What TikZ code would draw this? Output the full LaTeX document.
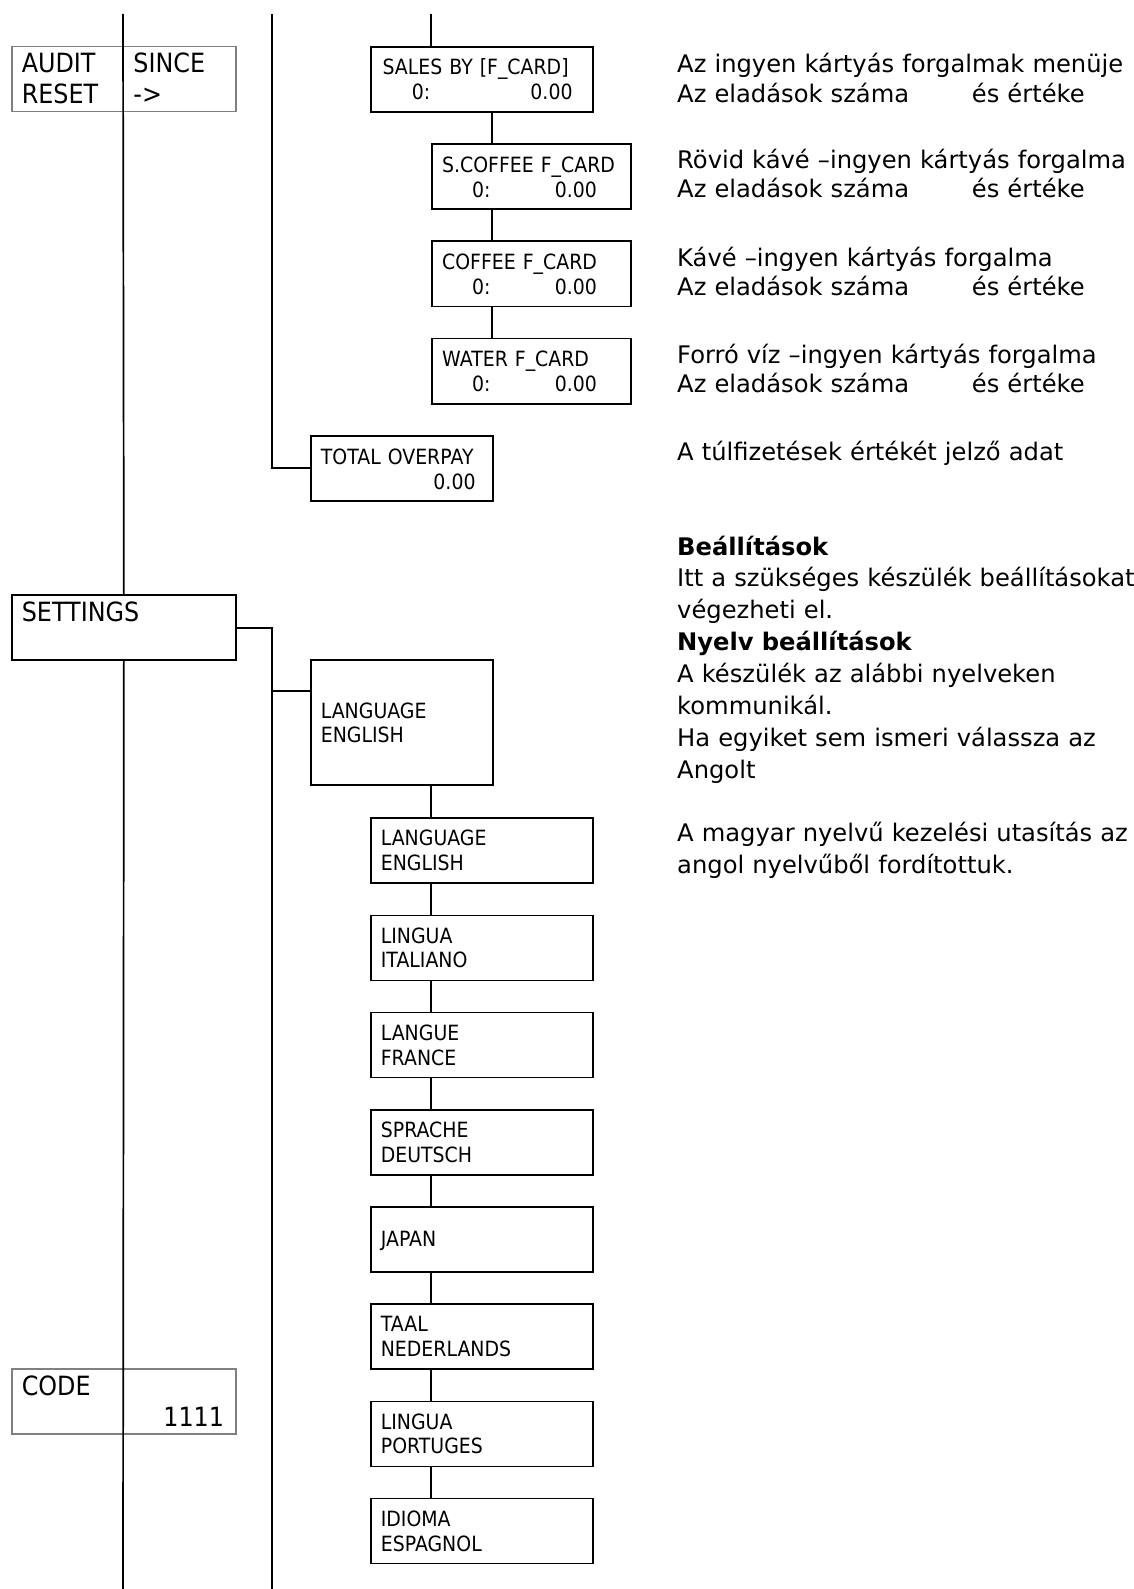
\documentclass[tikz,border=0pt]{standalone}
\usepackage{fontspec}
\setmainfont{DejaVu Sans}
\newfontfamily\boxfont{DejaVu Sans}[FakeStretch=0.9]

\newcommand\menufont{\boxfont\fontsize{21pt}{24.8pt}\selectfont}
\newcommand\keyfont{\boxfont\fontsize{26.5pt}{31pt}\selectfont}
\newcommand\descfont{\fontsize{24.2pt}{29.6pt}\selectfont}
\newcommand\notefont{\fontsize{24.2pt}{31.9pt}\selectfont}
\newcommand\cntrow[2]{\makebox[\linewidth][l]{\hspace*{#1}0:\hfill 0.00\hspace*{#2}}}

\begin{document}
\begin{tikzpicture}[x=1pt,y=-1pt]
% Define the node styles
\tikzstyle{menu} = [draw, rectangle, line width=1.7pt, anchor=north west, inner xsep=10pt, inner ysep=0pt, align=left, font=\menufont]
\tikzstyle{row} = [menu, text width=202pt, text height=27.7pt, text depth=37.3pt]
\tikzstyle{fcard} = [menu, text width=179pt, text height=28.4pt, text depth=36.8pt]
\tikzstyle{key} = [menu, draw=black!50, line width=1.5pt, font=\keyfont, text width=204pt, text height=26pt, text depth=39pt]
\tikzstyle{desc} = [anchor=base west, inner sep=0pt, align=left, text width=500pt, font=\descfont]
\tikzstyle{wire} = [line width=1.7pt]

\useasboundingbox (0,0) rectangle (1133,1589);

% Define the nodes
\node[key] (audit) at (11,46) {\makebox[111.7pt][l]{AUDIT}SINCE\\\makebox[111.7pt][l]{RESET}->};
\node[menu, text width=202pt, text height=28pt, text depth=37pt] (sales) at (370,46) {\hspace*{1.7pt}SALES BY [F\_CARD]\\\cntrow{31pt}{10.3pt}};
\node[fcard] (scoffee) at (431.3,143.3) {S.COFFEE F\_CARD\\\cntrow{30pt}{24.3pt}};
\node[fcard] (coffee) at (431.3,240.4) {COFFEE F\_CARD\\\cntrow{30pt}{24.3pt}};
\node[fcard] (water) at (431.3,337.6) {WATER F\_CARD\\\cntrow{30pt}{24.3pt}};
\node[menu, text width=162pt, text height=28.6pt, text depth=36.6pt] (total) at (310,434.8) {TOTAL OVERPAY\\\makebox[\linewidth][r]{0.00\hspace*{7.3pt}}};

\node[key, draw=black, line width=1.7pt] (settings) at (11,594.3) {SETTINGS};
\node[menu, text width=162pt, text height=58pt, text depth=67pt] (biglang) at (310,659.3) {LANGUAGE\\ENGLISH};
\node[row] (english) at (370,817.3) {LANGUAGE\\ENGLISH};
\node[row] (italiano) at (370,914.5) {LINGUA\\ITALIANO};
\node[row] (france) at (370,1011.7) {LANGUE\\FRANCE};
\node[row] (deutsch) at (370,1108.9) {SPRACHE\\DEUTSCH};
\node[row, text height=39.4pt, text depth=25.6pt] (japan) at (370,1206.1) {JAPAN};
\node[row] (nederlands) at (370,1303.3) {TAAL\\NEDERLANDS};
\node[row] (portuges) at (370,1400.5) {LINGUA\\PORTUGES};
\node[row] (espagnol) at (370,1497.7) {IDIOMA\\ESPAGNOL};
\node[key] (code) at (11,1368.3) {CODE\\\makebox[\linewidth][r]{1111\hspace*{1.7pt}}};

% Descriptions
\node[desc] (dsales) at (677,72.7) {Az ingyen kártyás forgalmak menüje\\\makebox[294.7pt][l]{Az eladások száma}és értéke};
\node[desc] (dscoffee) at (677,168.3) {Rövid kávé –ingyen kártyás forgalma\\\makebox[294.7pt][l]{Az eladások száma}és értéke};
\node[desc] (dcoffee) at (677,266) {Kávé –ingyen kártyás forgalma\\\makebox[294.7pt][l]{Az eladások száma}és értéke};
\node[desc] (dwater) at (677,363.3) {Forró víz –ingyen kártyás forgalma\\\makebox[294.7pt][l]{Az eladások száma}és értéke};
\node[desc] (dtotal) at (677,460) {A túlfizetések értékét jelző adat};
\node[desc, font=\notefont] (dsettings) at (677,555) {\textbf{Beállítások}\\Itt a szükséges készülék beállításokat\\végezheti el.\\\textbf{Nyelv beállítások}\\A készülék az alábbi nyelveken\\kommunikál.\\Ha egyiket sem ismeri válassza az\\Angolt};
\node[desc, font=\notefont] (dnote) at (677,841.7) {A magyar nyelvű kezelési utasítás az\\angol nyelvűből fordítottuk.};

% Define the connections
\coordinate (topA) at (123,14);
\coordinate (topB) at (272.3,14);
\coordinate (topC) at (431.3,14);
\coordinate (botA) at (123,1589);
\coordinate (botB) at (272.3,1589);
\coordinate (colF) at (491.7,14);
\coordinate (langtap) at ([yshift=-32pt]biglang.north west);

\draw[wire] (topA) -- (settings.north);
\draw[wire] (settings.south) -- (botA);
\draw[wire] (topB) |- (total.west);
\draw[wire] (settings.east) -| (botB);
\draw[wire] (langtap) -- (langtap -| botB);
\draw[wire] (topC) -- (topC |- sales.north);

\draw[wire] (sales.south -| colF) -- (scoffee.north -| colF);
\draw[wire] (scoffee.south -| colF) -- (coffee.north -| colF);
\draw[wire] (coffee.south -| colF) -- (water.north -| colF);

\draw[wire] (biglang.south -| topC) -- (english.north -| topC);
\draw[wire] (english.south -| topC) -- (italiano.north -| topC);
\draw[wire] (italiano.south -| topC) -- (france.north -| topC);
\draw[wire] (france.south -| topC) -- (deutsch.north -| topC);
\draw[wire] (deutsch.south -| topC) -- (japan.north -| topC);
\draw[wire] (japan.south -| topC) -- (nederlands.north -| topC);
\draw[wire] (nederlands.south -| topC) -- (portuges.north -| topC);
\draw[wire] (portuges.south -| topC) -- (espagnol.north -| topC);

\end{tikzpicture}
\end{document}
